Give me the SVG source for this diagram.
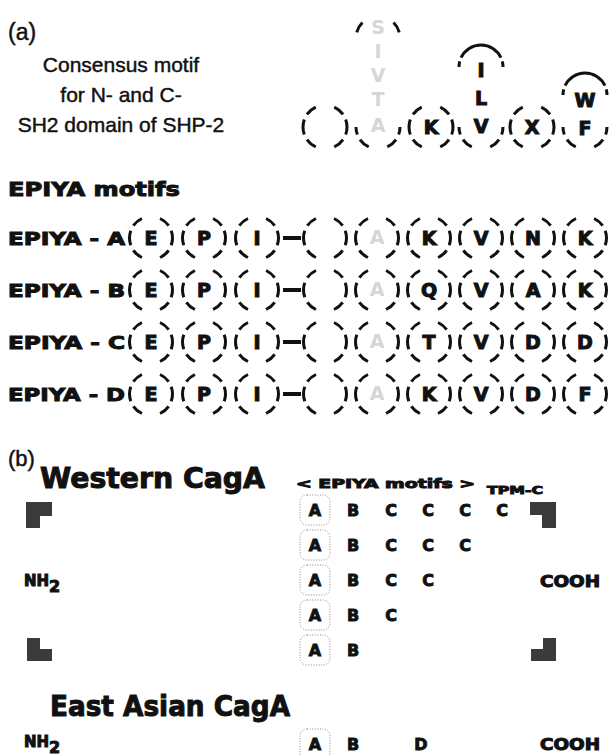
<svg xmlns="http://www.w3.org/2000/svg" width="609" height="756" viewBox="0 0 609 756">
  <defs>
    <linearGradient id="shadeE" x1="0" y1="1" x2="1" y2="0">
      <stop offset="0" stop-color="#c9c9c9"/>
      <stop offset="0.55" stop-color="#ffffff"/>
    </linearGradient>
    <linearGradient id="shadeI" x1="0" y1="0" x2="1" y2="0">
      <stop offset="0.35" stop-color="#ffffff"/>
      <stop offset="1" stop-color="#b0b0b0"/>
    </linearGradient>
  </defs>
  <style>
    .plain { font-family: "Liberation Sans", Arial, sans-serif; fill: #111; stroke: #111; stroke-width: 0.45; }
    .heavy { font-family: "DejaVu Sans", "Liberation Sans", sans-serif; font-weight: bold; fill: #111; stroke: #111; stroke-width: 1; }
    .res { font-family: "DejaVu Sans", "Liberation Sans", sans-serif; font-weight: bold; font-size: 19px; fill: #111; stroke: #111; stroke-width: 1.1; text-anchor: middle; }
    .faint { fill: #d6d6d6; stroke: none; }
    .ring { fill: none; stroke: #111; stroke-width: 3; stroke-dasharray: 40 15 30 50 30 15; stroke-dashoffset: 20; }
    .arcTop { fill: none; stroke: #111; stroke-width: 3; stroke-dasharray: 15 10 130 10 15; }
    .arcTopGap { fill: none; stroke: #111; stroke-width: 3; stroke-dasharray: 0 15 30 90 30 15; }
    .arcBot { fill: none; stroke: #111; stroke-width: 3; stroke-dasharray: 20 15 30 50 30 15 20; }
    .tag { font-family: "DejaVu Sans", "Liberation Sans", sans-serif; font-weight: bold; font-size: 16px; fill: #111; stroke: #111; stroke-width: 0.9; text-anchor: middle; }
    .boxA { fill: none; stroke: #8a8a8a; stroke-width: 1; stroke-dasharray: 1 1.6; }
    .block { fill: #3b3b3b; }
    .bar { stroke: #111; stroke-width: 4; }
  </style>

  <!-- panel (a): consensus motif -->
  <g id="panel-a-title">
    <text class="plain" x="8" y="40" font-size="23">(a)</text>
    <text class="plain" x="121" y="72" font-size="21" text-anchor="middle">Consensus motif</text>
    <text class="plain" x="121" y="102" font-size="21" text-anchor="middle">for N- and C-</text>
    <text class="plain" x="121" y="132" font-size="21" text-anchor="middle">SH2 domain of SHP-2</text>
  </g>

  <g id="consensus-pY">
    <circle class="ring" cx="325" cy="127" r="22" pathLength="360"/>
  </g>
  <g id="consensus-pos1">
    <path class="arcTopGap" d="M356,38 A22,22 0 0 1 400,38" pathLength="180"/>
    <path class="arcBot" d="M400,127 A22,22 0 0 1 356,127" pathLength="180"/>
    <text class="res faint" x="378" y="34" font-size="15">S</text>
    <text class="res faint" x="378" y="58" font-size="15">I</text>
    <text class="res faint" x="378" y="82" font-size="15">V</text>
    <text class="res faint" x="378" y="106" font-size="15">T</text>
    <text class="res faint" x="378" y="132" font-size="15">A</text>
  </g>
  <g id="consensus-pos2">
    <circle class="ring" cx="431" cy="127" r="22" pathLength="360"/>
    <text class="res" x="431" y="134">K</text>
  </g>
  <g id="consensus-pos3">
    <path class="arcTop" d="M459,67 A22,22 0 0 1 503,67" pathLength="180"/>
    <path class="arcBot" d="M503,127 A22,22 0 0 1 459,127" pathLength="180"/>
    <text class="res" x="481" y="77">I</text>
    <text class="res" x="481" y="105">L</text>
    <text class="res" x="481" y="133">V</text>
  </g>
  <g id="consensus-pos4">
    <circle class="ring" cx="532" cy="127" r="22" pathLength="360"/>
    <text class="res" x="532" y="134">X</text>
  </g>
  <g id="consensus-pos5">
    <path class="arcTop" d="M563,95 A22,22 0 0 1 607,95" pathLength="180"/>
    <path class="arcBot" d="M607,127 A22,22 0 0 1 563,127" pathLength="180"/>
    <text class="res" x="585" y="107">W</text>
    <text class="res" x="585" y="135">F</text>
  </g>

  <!-- EPIYA motif rows -->
  <g id="epiya-heading">
    <text class="heavy" x="8" y="196" font-size="20" textLength="172" lengthAdjust="spacingAndGlyphs">EPIYA motifs</text>
  </g>

  <g id="epiya-A">
    <text class="heavy" x="8" y="245" font-size="18" textLength="117" lengthAdjust="spacingAndGlyphs">EPIYA - A</text>
    <circle cx="151" cy="238" r="21.5" fill="url(#shadeE)" class="ring" pathLength="360"/>
    <text class="res" x="151" y="245">E</text>
    <circle class="ring" cx="204" cy="238" r="21.5" pathLength="360"/>
    <text class="res" x="204" y="245">P</text>
    <circle cx="257" cy="238" r="21.5" fill="url(#shadeI)" class="ring" pathLength="360"/>
    <text class="res" x="257" y="245">I</text>
    <line class="bar" x1="283" y1="238" x2="301" y2="238"/>
    <circle class="ring" cx="325" cy="238" r="21.5" pathLength="360"/>
    <circle class="ring" cx="377" cy="238" r="21.5" pathLength="360"/>
    <text class="res faint" x="377" y="244" font-size="15">A</text>
    <circle class="ring" cx="429" cy="238" r="21.5" pathLength="360"/>
    <text class="res" x="429" y="245">K</text>
    <circle class="ring" cx="481" cy="238" r="21.5" pathLength="360"/>
    <text class="res" x="481" y="245">V</text>
    <circle class="ring" cx="533" cy="238" r="21.5" pathLength="360"/>
    <text class="res" x="533" y="245">N</text>
    <circle class="ring" cx="585" cy="238" r="21.5" pathLength="360"/>
    <text class="res" x="585" y="245">K</text>
  </g>

  <g id="epiya-B">
    <text class="heavy" x="8" y="297" font-size="18" textLength="117" lengthAdjust="spacingAndGlyphs">EPIYA - B</text>
    <circle cx="151" cy="290" r="21.5" fill="url(#shadeE)" class="ring" pathLength="360"/>
    <text class="res" x="151" y="297">E</text>
    <circle class="ring" cx="204" cy="290" r="21.5" pathLength="360"/>
    <text class="res" x="204" y="297">P</text>
    <circle cx="257" cy="290" r="21.5" fill="url(#shadeI)" class="ring" pathLength="360"/>
    <text class="res" x="257" y="297">I</text>
    <line class="bar" x1="283" y1="290" x2="301" y2="290"/>
    <circle class="ring" cx="325" cy="290" r="21.5" pathLength="360"/>
    <circle class="ring" cx="377" cy="290" r="21.5" pathLength="360"/>
    <text class="res faint" x="377" y="296" font-size="15">A</text>
    <circle class="ring" cx="429" cy="290" r="21.5" pathLength="360"/>
    <text class="res" x="429" y="297">Q</text>
    <circle class="ring" cx="481" cy="290" r="21.5" pathLength="360"/>
    <text class="res" x="481" y="297">V</text>
    <circle class="ring" cx="533" cy="290" r="21.5" pathLength="360"/>
    <text class="res" x="533" y="297">A</text>
    <circle class="ring" cx="585" cy="290" r="21.5" pathLength="360"/>
    <text class="res" x="585" y="297">K</text>
  </g>

  <g id="epiya-C">
    <text class="heavy" x="8" y="349" font-size="18" textLength="117" lengthAdjust="spacingAndGlyphs">EPIYA - C</text>
    <circle cx="151" cy="342" r="21.5" fill="url(#shadeE)" class="ring" pathLength="360"/>
    <text class="res" x="151" y="349">E</text>
    <circle class="ring" cx="204" cy="342" r="21.5" pathLength="360"/>
    <text class="res" x="204" y="349">P</text>
    <circle cx="257" cy="342" r="21.5" fill="url(#shadeI)" class="ring" pathLength="360"/>
    <text class="res" x="257" y="349">I</text>
    <line class="bar" x1="283" y1="342" x2="301" y2="342"/>
    <circle class="ring" cx="325" cy="342" r="21.5" pathLength="360"/>
    <circle class="ring" cx="377" cy="342" r="21.5" pathLength="360"/>
    <text class="res faint" x="377" y="348" font-size="15">A</text>
    <circle class="ring" cx="429" cy="342" r="21.5" pathLength="360"/>
    <text class="res" x="429" y="349">T</text>
    <circle class="ring" cx="481" cy="342" r="21.5" pathLength="360"/>
    <text class="res" x="481" y="349">V</text>
    <circle class="ring" cx="533" cy="342" r="21.5" pathLength="360"/>
    <text class="res" x="533" y="349">D</text>
    <circle class="ring" cx="585" cy="342" r="21.5" pathLength="360"/>
    <text class="res" x="585" y="349">D</text>
  </g>

  <g id="epiya-D">
    <text class="heavy" x="8" y="401" font-size="18" textLength="117" lengthAdjust="spacingAndGlyphs">EPIYA - D</text>
    <circle cx="151" cy="394" r="21.5" fill="url(#shadeE)" class="ring" pathLength="360"/>
    <text class="res" x="151" y="401">E</text>
    <circle class="ring" cx="204" cy="394" r="21.5" pathLength="360"/>
    <text class="res" x="204" y="401">P</text>
    <circle cx="257" cy="394" r="21.5" fill="url(#shadeI)" class="ring" pathLength="360"/>
    <text class="res" x="257" y="401">I</text>
    <line class="bar" x1="283" y1="394" x2="301" y2="394"/>
    <circle class="ring" cx="325" cy="394" r="21.5" pathLength="360"/>
    <circle class="ring" cx="377" cy="394" r="21.5" pathLength="360"/>
    <text class="res faint" x="377" y="400" font-size="15">A</text>
    <circle class="ring" cx="429" cy="394" r="21.5" pathLength="360"/>
    <text class="res" x="429" y="401">K</text>
    <circle class="ring" cx="481" cy="394" r="21.5" pathLength="360"/>
    <text class="res" x="481" y="401">V</text>
    <circle class="ring" cx="533" cy="394" r="21.5" pathLength="360"/>
    <text class="res" x="533" y="401">D</text>
    <circle class="ring" cx="585" cy="394" r="21.5" pathLength="360"/>
    <text class="res" x="585" y="401">F</text>
  </g>

  <!-- panel (b): Western CagA -->
  <g id="panel-b-title">
    <text class="plain" x="8" y="466" font-size="22">(b)</text>
    <text class="heavy" x="40" y="488" font-size="28" stroke-width="1.2" textLength="225" lengthAdjust="spacingAndGlyphs">Western CagA</text>
    <text class="heavy" x="296" y="488" font-size="13" stroke-width="0.6" textLength="179" lengthAdjust="spacingAndGlyphs">&lt; EPIYA motifs &gt;</text>
    <text class="heavy" x="487" y="494" font-size="11" stroke-width="0.5" textLength="56" lengthAdjust="spacingAndGlyphs">TPM-C</text>
  </g>

  <g id="western-frame">
    <path class="block" d="M26,502 H52 V516 H40 V528 H26 Z"/>
    <path class="block" d="M530,502 H556 V528 H542 V515 H530 Z"/>
    <path class="block" d="M27,638 H40 V649 H52 V661 H27 Z"/>
    <path class="block" d="M543,638 H556 V661 H531 V649 H543 Z"/>
  </g>

  <g id="western-termini">
    <text class="heavy" x="24" y="586" font-size="15" stroke-width="0.7">NH<tspan dy="6" font-size="16">2</tspan></text>
    <text class="heavy" x="540" y="587" font-size="15" stroke-width="0.7" textLength="60" lengthAdjust="spacingAndGlyphs">COOH</text>
  </g>

  <g id="western-row1">
    <rect class="boxA" x="300" y="495" width="30" height="30" rx="7"/>
    <text class="tag" x="315" y="516">A</text>
    <text class="tag" x="353" y="516">B</text>
    <text class="tag" x="391" y="516">C</text>
    <text class="tag" x="428" y="516">C</text>
    <text class="tag" x="465" y="516">C</text>
    <text class="tag" x="502" y="516">C</text>
  </g>
  <g id="western-row2">
    <rect class="boxA" x="300" y="530" width="30" height="30" rx="7"/>
    <text class="tag" x="315" y="551">A</text>
    <text class="tag" x="353" y="551">B</text>
    <text class="tag" x="391" y="551">C</text>
    <text class="tag" x="428" y="551">C</text>
    <text class="tag" x="465" y="551">C</text>
  </g>
  <g id="western-row3">
    <rect class="boxA" x="300" y="565" width="30" height="30" rx="7"/>
    <text class="tag" x="315" y="586">A</text>
    <text class="tag" x="353" y="586">B</text>
    <text class="tag" x="391" y="586">C</text>
    <text class="tag" x="428" y="586">C</text>
  </g>
  <g id="western-row4">
    <rect class="boxA" x="300" y="600" width="30" height="30" rx="7"/>
    <text class="tag" x="315" y="621">A</text>
    <text class="tag" x="353" y="621">B</text>
    <text class="tag" x="391" y="621">C</text>
  </g>
  <g id="western-row5">
    <rect class="boxA" x="300" y="635" width="30" height="30" rx="7"/>
    <text class="tag" x="315" y="656">A</text>
    <text class="tag" x="353" y="656">B</text>
  </g>

  <!-- panel (b): East Asian CagA -->
  <g id="east-asian">
    <text class="heavy" x="50" y="716" font-size="28" stroke-width="1.2" textLength="240" lengthAdjust="spacingAndGlyphs">East Asian CagA</text>
    <text class="heavy" x="24" y="747" font-size="15" stroke-width="0.7">NH<tspan dy="6" font-size="16">2</tspan></text>
    <rect class="boxA" x="300" y="729" width="30" height="30" rx="7"/>
    <text class="tag" x="315" y="750">A</text>
    <text class="tag" x="353" y="750">B</text>
    <text class="tag" x="421" y="750">D</text>
    <text class="heavy" x="540" y="750" font-size="15" stroke-width="0.7" textLength="60" lengthAdjust="spacingAndGlyphs">COOH</text>
  </g>
</svg>
